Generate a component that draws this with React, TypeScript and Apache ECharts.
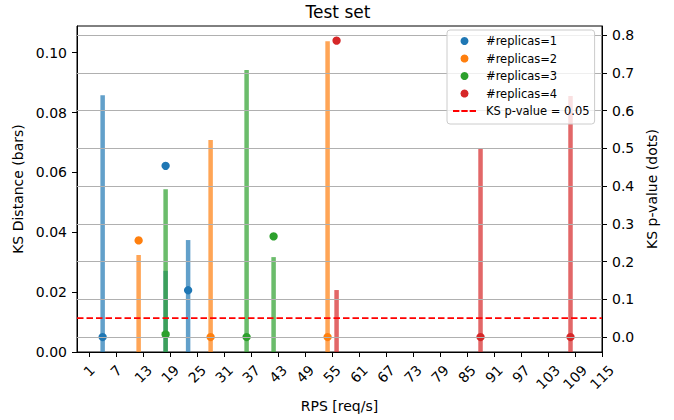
import React, { useEffect, useRef } from "react";
import * as echarts from "echarts";

// ---- data ----
const seriesNames = ["#replicas=1", "#replicas=2", "#replicas=3", "#replicas=4"];
const seriesColors = ["#1f77b4", "#ff7f0e", "#2ca02c", "#d62728"];

const rpsR1 = [4, 18, 23];
const ksR1 = [0.0858, 0.0271, 0.0374];
const pR1 = [0.0, 0.454, 0.124];

const rpsR2 = [12, 28, 54];
const ksR2 = [0.0324, 0.0708, 0.1038];
const pR2 = [0.256, 0.0, 0.0];

const rpsR3 = [18, 36, 42];
const ksR3 = [0.0544, 0.0942, 0.0317];
const pR3 = [0.007, 0.0, 0.267];

const rpsR4 = [56, 88, 108];
const ksR4 = [0.0207, 0.068, 0.0855];
const pR4 = [0.786, 0.0, 0.0];

const pThreshold = 0.05;
const thresholdName = "KS p-value = 0.05";

const xTickValues = [1, 7, 13, 19, 25, 31, 37, 43, 49, 55, 61, 67, 73, 79, 85, 91, 97, 103, 109, 115];
const leftTickValues = [0, 0.02, 0.04, 0.06, 0.08, 0.1];
const rightTickValues = [0, 0.1, 0.2, 0.3, 0.4, 0.5, 0.6, 0.7, 0.8];

const xMin = -1.7;
const xMax = 115;

const FONT = "DejaVu Sans";

export default function App() {
  const ref = useRef<HTMLDivElement>(null);

  useEffect(() => {
    if (!ref.current) return;
    const chart = echarts.init(ref.current, undefined, { renderer: "svg" });

    const rps = [rpsR1, rpsR2, rpsR3, rpsR4];
    const ks = [ksR1, ksR2, ksR3, ksR4];
    const pv = [pR1, pR2, pR3, pR4];

    const barSeries = rps.map((xs, i) => ({
      type: "bar",
      name: "bars " + seriesNames[i],
      xAxisIndex: 0,
      yAxisIndex: 0,
      data: xs.map((x, j) => [x, ks[i][j]]),
      barWidth: 4.5,
      barGap: "-100%",
      itemStyle: { color: seriesColors[i], opacity: 0.7 },
      z: 2,
    }));

    const dotSeries = rps.map((xs, i) => ({
      type: "scatter",
      name: seriesNames[i],
      xAxisIndex: 0,
      yAxisIndex: 1,
      data: xs.map((x, j) => [x, pv[i][j]]),
      symbol: "circle",
      symbolSize: 8.3,
      itemStyle: { color: seriesColors[i], opacity: 1 },
      z: 2,
    }));

    const labelBase = { fontFamily: FONT, fontSize: 14, color: "#000" };

    const option: any = {
      animation: false,
      backgroundColor: "#ffffff",
      textStyle: { fontFamily: FONT },
      title: {
        text: "Test set",
        left: 305.5,
        top: 3,
        padding: 0,
        textStyle: { fontFamily: FONT, fontSize: 17, fontWeight: "normal", color: "#000" },
      },
      grid: {
        left: 77,
        right: 72,
        top: 26,
        bottom: 68,
        show: true,
        borderColor: "#000",
        borderWidth: 1,
        backgroundColor: "transparent",
        containLabel: false,
      },
      legend: {
        orient: "vertical",
        left: 447,
        top: 30,
        padding: [4, 5, 6, 6],
        itemWidth: 23,
        itemHeight: 8,
        itemGap: 3.5,
        selectedMode: false,
        borderColor: "#cccccc",
        borderWidth: 1,
        borderRadius: 3,
        backgroundColor: "rgba(255,255,255,0.8)",
        textStyle: { fontFamily: FONT, fontSize: 11.5, color: "#000", lineHeight: 14, padding: [0, 0, 0, 5] },
        data: [
          ...seriesNames.map((n) => ({ name: n, icon: "circle" })),
          {
            name: thresholdName,
            icon: "path://M0,0h6.5v2H0z M8.5,0h6.5v2h-6.5z M17,0h6.5v2h-6.5z",
          },
        ],
      },
      xAxis: {
        type: "value",
        min: xMin,
        max: xMax,
        name: "RPS [req/s]",
        nameLocation: "middle",
        nameGap: 40,
        nameTextStyle: { fontFamily: FONT, fontSize: 14, color: "#000" },
        axisLine: { show: true, onZero: false, lineStyle: { color: "#000", width: 1 } },
        axisTick: { show: true, length: 5, customValues: xTickValues, lineStyle: { color: "#000", width: 1 } },
        splitLine: { show: false },
        axisLabel: {
          customValues: xTickValues,
          rotate: 45,
          align: "center",
          verticalAlign: "middle",
          margin: 22,
          formatter: (v: number) => {
            const s = String(Math.round(v));
            return "{n" + s.length + "|" + s + "}";
          },
          rich: {
            n1: { ...labelBase, padding: [0, 0, 4.5, 4.5] },
            n2: { ...labelBase },
            n3: { ...labelBase, padding: [4.5, 4.5, 0, 0] },
          },
        },
      },
      yAxis: [
        {
          type: "value",
          position: "left",
          min: 0,
          max: 0.1089,
          name: "KS Distance (bars)",
          nameLocation: "middle",
          nameGap: 48,
          nameTextStyle: { fontFamily: FONT, fontSize: 14, color: "#000" },
          axisLine: { show: true, onZero: false, lineStyle: { color: "#000", width: 1 } },
          axisTick: { show: true, length: 5, customValues: leftTickValues, lineStyle: { color: "#000", width: 1 } },
          splitLine: { show: false },
          axisLabel: {
            customValues: leftTickValues,
            margin: 10,
            fontFamily: FONT,
            fontSize: 14,
            color: "#000",
            formatter: (v: number) => v.toFixed(2),
          },
        },
        {
          type: "value",
          position: "right",
          min: -0.0397,
          max: 0.8246,
          name: "KS p-value (dots)",
          nameLocation: "middle",
          nameGap: 30,
          nameTextStyle: { fontFamily: FONT, fontSize: 14, color: "#000" },
          axisLine: { show: true, onZero: false, lineStyle: { color: "#000", width: 1 } },
          axisTick: { show: true, length: 5, customValues: rightTickValues, lineStyle: { color: "#000", width: 1 } },
          splitLine: { show: false },
          axisLabel: {
            customValues: rightTickValues,
            margin: 10,
            fontFamily: FONT,
            fontSize: 14,
            color: "#000",
            formatter: (v: number) => v.toFixed(1),
          },
        },
      ],
      series: [
        ...barSeries,
        ...dotSeries,
        {
          type: "line",
          name: thresholdName,
          xAxisIndex: 0,
          yAxisIndex: 1,
          data: [
            [xMin, pThreshold],
            [xMax, pThreshold],
          ],
          symbol: "none",
          lineStyle: { color: "red", width: 1.8, type: [6.5, 3] },
          itemStyle: { color: "red" },
          z: 3.5,
          markLine: {
            silent: true,
            z: 3,
            symbol: ["none", "none"],
            label: { show: false },
            emphasis: { disabled: true },
            lineStyle: { color: "#b0b0b0", width: 1, type: "solid" },
            data: rightTickValues.map((v) => ({ yAxis: v })),
          },
        },
      ],
    };

    chart.setOption(option);
    return () => chart.dispose();
  }, []);

  return (
    <div
      ref={ref}
      style={{ position: "fixed", left: 0, top: 0, width: 674, height: 420, background: "#fff" }}
    />
  );
}
